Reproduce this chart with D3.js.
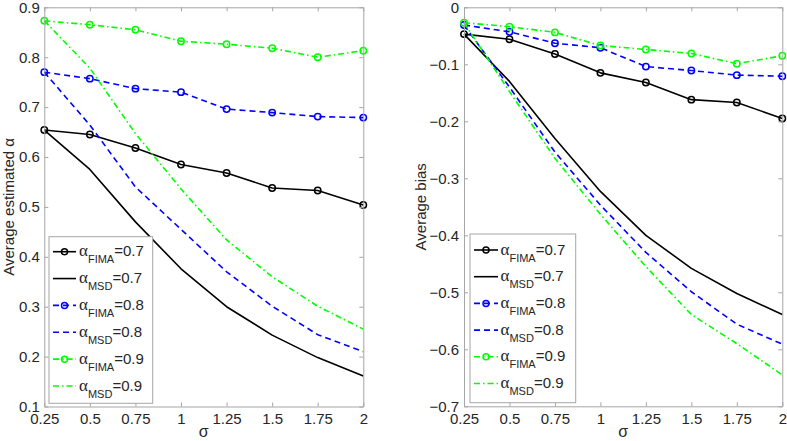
<!DOCTYPE html>
<html>
<head>
<meta charset="utf-8">
<script src="https://cdn.jsdelivr.net/npm/d3@7"></script>
<style>
  html, body { margin: 0; padding: 0; background: #fff; }
  svg { display: block; font-family: "Liberation Sans", Arial, sans-serif; }
</style>
</head>
<body>
<svg id="chart" width="787" height="441"></svg>
<script>
// ---------------- data ----------------
const sigma = [0.25, 0.5, 0.75, 1, 1.25, 1.5, 1.75, 2];
const sigmaLabels = ["0.25", "0.5", "0.75", "1", "1.25", "1.5", "1.75", "2"];

// Left panel: average estimated alpha
const estFima07 = [0.654, 0.645, 0.618, 0.585, 0.568, 0.538, 0.533, 0.504];
const estMsd07  = [0.654, 0.575, 0.470, 0.376, 0.300, 0.243, 0.198, 0.161];
const estFima08 = [0.770, 0.757, 0.737, 0.730, 0.696, 0.689, 0.681, 0.679];
const estMsd08  = [0.770, 0.664, 0.540, 0.455, 0.370, 0.301, 0.244, 0.210];
const estFima09 = [0.873, 0.865, 0.855, 0.832, 0.826, 0.818, 0.800, 0.813];
const estMsd09  = [0.873, 0.778, 0.647, 0.536, 0.434, 0.360, 0.301, 0.255];
const estTicks = [0.1, 0.2, 0.3, 0.4, 0.5, 0.6, 0.7, 0.8, 0.9];
const estTickLabels = ["0.1", "0.2", "0.3", "0.4", "0.5", "0.6", "0.7", "0.8", "0.9"];

// Right panel: average bias
const biasFima07 = [-0.047, -0.056, -0.082, -0.115, -0.132, -0.162, -0.167, -0.195];
const biasMsd07  = [-0.047, -0.130, -0.230, -0.323, -0.400, -0.458, -0.502, -0.539];
const biasFima08 = [-0.031, -0.043, -0.063, -0.071, -0.104, -0.111, -0.119, -0.121];
const biasMsd08  = [-0.031, -0.140, -0.254, -0.347, -0.430, -0.499, -0.556, -0.591];
const biasFima09 = [-0.027, -0.034, -0.044, -0.067, -0.074, -0.081, -0.099, -0.085];
const biasMsd09  = [-0.027, -0.148, -0.265, -0.363, -0.455, -0.539, -0.590, -0.645];
const biasTicks = [-0.7, -0.6, -0.5, -0.4, -0.3, -0.2, -0.1, 0];
const biasTickLabels = ["\u22120.7", "\u22120.6", "\u22120.5", "\u22120.4", "\u22120.3", "\u22120.2", "\u22120.1", "0"];

const legendValues = ["0.7", "0.7", "0.8", "0.8", "0.9", "0.9"];
const legendSubs = ["FIMA", "MSD", "FIMA", "MSD", "FIMA", "MSD"];

// ---------------- styles ----------------
const styles = [
  { color: "#000000", dash: null, marker: true },          // FIMA 0.7
  { color: "#000000", dash: null, marker: false },         // MSD 0.7
  { color: "#0000ff", dash: "6,4", marker: true },         // FIMA 0.8
  { color: "#0000ff", dash: "6,4", marker: false },        // MSD 0.8
  { color: "#00ff00", dash: "6,3,1.5,3", marker: true },   // FIMA 0.9
  { color: "#00ff00", dash: "6,3,1.5,3", marker: false }   // MSD 0.9
];

const frameColor = "#a6a6a6";
const textColor = "#262626";

const svg = d3.select("#chart");
svg.append("rect").attr("width", 787).attr("height", 441).attr("fill", "#fff");

function drawPanel(cfg) {
  const x = d3.scaleLinear().domain([0.25, 2]).range([cfg.x0, cfg.x1]);
  const y = d3.scaleLinear().domain(cfg.yDomain).range([cfg.yBottom, cfg.yTop]);
  const g = svg.append("g");

  // series lines
  const line = d3.line().x((d, i) => x(sigma[i])).y(d => y(d));
  cfg.series.forEach((vals, k) => {
    const st = styles[k];
    g.append("path").datum(vals)
      .attr("d", line)
      .attr("fill", "none")
      .attr("stroke", st.color)
      .attr("stroke-width", 1.6)
      .attr("stroke-dasharray", st.dash)
      .attr("stroke-linejoin", "round");
    if (st.marker) {
      g.selectAll(null).data(vals).enter().append("circle")
        .attr("cx", (d, i) => x(sigma[i]))
        .attr("cy", d => y(d))
        .attr("r", 3.2)
        .attr("fill", "none")
        .attr("stroke", st.color)
        .attr("stroke-width", 1.5);
    }
  });

  // axes
  const fmtX = d => sigmaLabels[sigma.indexOf(d)];
  const fmtY = d => cfg.tickLabels[cfg.ticks.indexOf(d)];
  const ax = [
    g.append("g").attr("transform", `translate(0,${cfg.yBottom})`)
      .call(d3.axisBottom(x).tickValues(sigma).tickFormat(fmtX).tickSizeInner(-4).tickSizeOuter(0).tickPadding(7)),
    g.append("g").attr("transform", `translate(0,${cfg.yTop})`)
      .call(d3.axisTop(x).tickValues(sigma).tickFormat("").tickSizeInner(-4).tickSizeOuter(0)),
    g.append("g").attr("transform", `translate(${cfg.x0},0)`)
      .call(d3.axisLeft(y).tickValues(cfg.ticks).tickFormat(fmtY).tickSizeInner(-4).tickSizeOuter(0).tickPadding(cfg.yPad)),
    g.append("g").attr("transform", `translate(${cfg.x1},0)`)
      .call(d3.axisRight(y).tickValues(cfg.ticks).tickFormat("").tickSizeInner(-4).tickSizeOuter(0))
  ];
  ax.forEach(a => {
    a.select(".domain").attr("stroke", frameColor).attr("stroke-width", 1);
    a.selectAll(".tick line").attr("stroke", frameColor).attr("stroke-width", 1);
    a.selectAll(".tick text").attr("fill", textColor)
      .style("font-family", '"Liberation Sans", Arial, sans-serif').style("font-size", "15px");
  });

  // axis labels
  svg.append("text")
    .attr("x", (cfg.x0 + cfg.x1) / 2).attr("y", 437)
    .attr("text-anchor", "middle").attr("fill", textColor)
    .style("font-size", "16px").text("\u03c3");
  svg.append("text")
    .attr("transform", `translate(${cfg.ylabX},${(cfg.yTop + cfg.yBottom) / 2}) rotate(-90)`)
    .attr("text-anchor", "middle").attr("fill", textColor)
    .style("font-size", "15px").text(cfg.ylabel);

  // legend
  const L = cfg.legend;
  svg.append("rect")
    .attr("x", L.x).attr("y", L.y).attr("width", L.w).attr("height", L.h)
    .attr("fill", "#fff").attr("stroke", frameColor).attr("stroke-width", 1);
  styles.forEach((st, k) => {
    const cy = L.row0 + k * L.rowStep;
    svg.append("line")
      .attr("x1", L.lx0).attr("x2", L.lx1).attr("y1", cy).attr("y2", cy)
      .attr("stroke", st.color).attr("stroke-width", 1.6)
      .attr("stroke-dasharray", st.dash);
    if (st.marker) {
      svg.append("circle").attr("cx", (L.lx0 + L.lx1) / 2).attr("cy", cy).attr("r", 3)
        .attr("fill", "none").attr("stroke", st.color).attr("stroke-width", 1.5);
    }
    const t = svg.append("text").attr("x", L.tx).attr("y", cy + 4.5).attr("fill", textColor)
      .style("font-size", "15px");
    t.append("tspan").style("font-family", '"Liberation Serif", "DejaVu Serif", serif').style("font-size", "17px").text("\u03b1");
    t.append("tspan").attr("dy", 7).style("font-size", "11px").text(legendSubs[k]);
    t.append("tspan").attr("dy", -7).text("=" + legendValues[k]);
  });
}

drawPanel({
  x0: 44.3, x1: 363.3, yTop: 7.3, yBottom: 406.5,
  yDomain: [0.1, 0.9], ticks: estTicks, tickLabels: estTickLabels, yPad: 4.5,
  series: [estFima07, estMsd07, estFima08, estMsd08, estFima09, estMsd09],
  ylabel: "Average estimated \u03b1", ylabX: 13.5,
  legend: { x: 49, y: 236.7, w: 103.7, h: 166.6, row0: 251.7, rowStep: 26.86, lx0: 53, lx1: 76, tx: 79 }
});

drawPanel({
  x0: 464, x1: 782.3, yTop: 7.3, yBottom: 406.3,
  yDomain: [-0.7, 0], ticks: biasTicks, tickLabels: biasTickLabels, yPad: 5,
  series: [biasFima07, biasMsd07, biasFima08, biasMsd08, biasFima09, biasMsd09],
  ylabel: "Average bias", ylabX: 426,
  legend: { x: 470, y: 234, w: 105.7, h: 168.7, row0: 250, rowStep: 26.7, lx0: 474, lx1: 498, tx: 500.5 }
});
</script>
</body>
</html>
